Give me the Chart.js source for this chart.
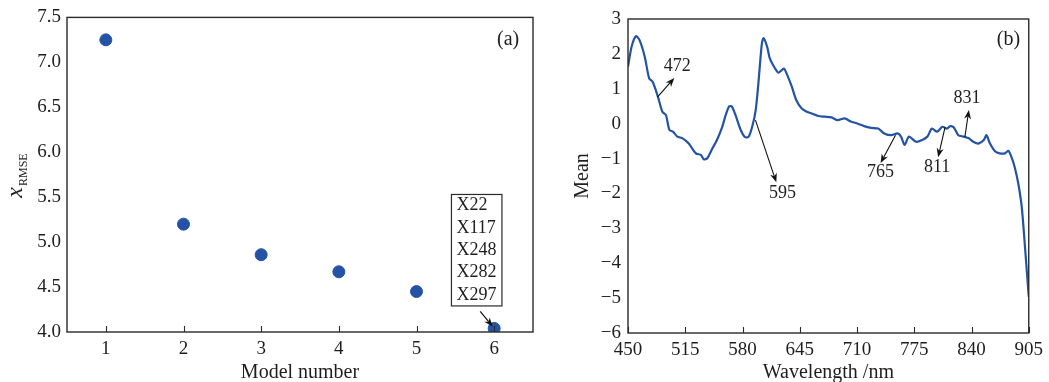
<!DOCTYPE html>
<html lang="en">
<head>
<meta charset="UTF-8">
<title>Model RMSE and mean spectrum</title>
<script src="https://cdn.jsdelivr.net/npm/chart.js"></script>
<style>
  html, body { margin: 0; padding: 0; background: #fff; }
  .wrap { display: flex; width: 1049px; height: 382px; }
</style>
</head>
<body>
<div class="wrap">
  <canvas id="rmseChart" width="540" height="382"></canvas>
  <canvas id="meanChart" width="509" height="382"></canvas>
</div>
<script>
// ---- panel (a) data
const modelNumbers = [1, 2, 3, 4, 5, 6];
const rmseValues = [7.25, 5.20, 4.86, 4.67, 4.45, 4.04];
const rmseTicks = [4.0, 4.5, 5.0, 5.5, 6.0, 6.5, 7.0, 7.5];
const selectedVars = ['X22', 'X117', 'X248', 'X282', 'X297'];

// ---- panel (b) data
const wavelengths = [450, 454, 459, 463, 469, 474, 478, 484, 489, 493, 497, 501, 506, 512, 519, 527,
  533, 536, 540, 546, 551, 557, 561, 565, 568, 572, 578, 583, 587, 591, 595, 598, 602, 604, 608, 611,
  617, 621, 627, 630, 636, 641, 647, 653, 658, 666, 673, 681, 688, 696, 703, 711, 718, 726, 734, 741,
  749, 756, 760, 764, 769, 777, 784, 790, 795, 801, 807, 812, 816, 820, 825, 831, 837, 842, 848, 854,
  857, 861, 867, 872, 878, 882, 886, 889, 893, 897, 901, 905];
const meanValues = [1.63, 2.2, 2.51, 2.4, 1.92, 1.3, 1.2, 0.77, 0.34, 0.25, -0.18, -0.23, -0.37, -0.42,
  -0.57, -0.85, -0.9, -1.02, -0.99, -0.7, -0.47, -0.09, 0.25, 0.5, 0.49, 0.25, -0.18, -0.39, -0.37,
  -0.09, 0.39, 1.15, 2.3, 2.45, 2.2, 1.87, 1.58, 1.46, 1.58, 1.44, 1.06, 0.68, 0.44, 0.34, 0.3, 0.22,
  0.2, 0.18, 0.1, 0.15, 0.06, 0, -0.07, -0.12, -0.14, -0.28, -0.33, -0.28, -0.37, -0.61, -0.37, -0.52,
  -0.47, -0.37, -0.14, -0.23, -0.09, -0.14, -0.07, -0.11, -0.33, -0.37, -0.42, -0.52, -0.57, -0.47,
  -0.33, -0.57, -0.8, -0.85, -0.85, -0.78, -1.0, -1.24, -1.7, -2.38, -3.62, -4.96];
const wavelengthTicks = [450, 515, 580, 645, 710, 775, 840, 905];
const meanTicks = [-6, -5, -4, -3, -2, -1, 0, 1, 2, 3];
const peakLabels = ['472', '595', '765', '811', '831'];

// annotation placement, in data units: [tailX, tailY, headX, headY, textX, textY]
const peakArrows = [
  [483.4, 0.76, 502.6, 1.31, 505.9, 1.65],
  [594.7, 0.10, 618.4, -1.68, 625.3, -1.99],
  [753.7, -0.33, 736.8, -1.13, 736.8, -1.39],
  [810.0, -0.10, 802.1, -0.96, 801.0, -1.25],
  [832.5, -0.38, 837.0, 0.39, 834.8, 0.73]
];

const FONT = '"Liberation Serif", serif';
const TXT = '#1e1e1e';
const AXIS = '#2a2a2a';
const BLUE = '#2453a6';

Chart.defaults.font.family = FONT;
Chart.defaults.font.size = 19;
Chart.defaults.color = TXT;

function arrow(ctx, x1, y1, x2, y2) {
  const a = Math.atan2(y2 - y1, x2 - x1);
  const len = 9, w = 3.5;
  ctx.beginPath();
  ctx.moveTo(x1, y1);
  ctx.lineTo(x2 - Math.cos(a) * len * 0.7, y2 - Math.sin(a) * len * 0.7);
  ctx.stroke();
  ctx.beginPath();
  ctx.moveTo(x2, y2);
  ctx.lineTo(x2 - Math.cos(a) * len + Math.sin(a) * w, y2 - Math.sin(a) * len - Math.cos(a) * w);
  ctx.lineTo(x2 - Math.cos(a) * len * 0.7, y2 - Math.sin(a) * len * 0.7);
  ctx.lineTo(x2 - Math.cos(a) * len - Math.sin(a) * w, y2 - Math.sin(a) * len + Math.cos(a) * w);
  ctx.closePath();
  ctx.fill();
}

// frame + inward x ticks
const framePlugin = {
  id: 'frame',
  afterDraw(chart) {
    const { ctx, chartArea: ca } = chart;
    const xs = chart.scales.x;
    ctx.save();
    ctx.strokeStyle = AXIS;
    ctx.lineWidth = 1.4;
    ctx.strokeRect(ca.left, ca.top, ca.right - ca.left, ca.bottom - ca.top);
    ctx.lineWidth = 1.1;
    xs.ticks.forEach((t, i) => {
      const px = Math.round(xs.getPixelForTick(i)) + 0.5;
      ctx.beginPath();
      ctx.moveTo(px, ca.bottom);
      ctx.lineTo(px, ca.bottom - 6);
      ctx.stroke();
    });
    ctx.restore();
  }
};

function fixedTicks(values) {
  return scale => { scale.ticks = values.map(v => ({ value: v })); };
}

// ---- panel (a)
const rmsePlugin = {
  id: 'rmseNotes',
  afterDraw(chart) {
    const { ctx } = chart;
    const xs = chart.scales.x, ys = chart.scales.y;
    ctx.save();
    // y title: x_RMSE
    ctx.translate(17, 176);
    ctx.rotate(-Math.PI / 2);
    ctx.fillStyle = TXT;
    ctx.textBaseline = 'middle';
    ctx.font = 'italic 24px ' + FONT;
    const wx = ctx.measureText('x').width;
    ctx.font = '12px ' + FONT;
    const ws = ctx.measureText('RMSE').width;
    const start = -(wx + ws) / 2;
    ctx.font = 'italic 24px ' + FONT;
    ctx.textAlign = 'left';
    ctx.fillText('x', start, -1);
    ctx.font = '12px ' + FONT;
    ctx.fillText('RMSE', start + wx + 1, 7);
    ctx.restore();

    ctx.save();
    ctx.fillStyle = TXT;
    ctx.font = '20px ' + FONT;
    ctx.textBaseline = 'middle';
    ctx.textAlign = 'center';
    ctx.fillText('(a)', xs.getPixelForValue(6.18), ys.getPixelForValue(7.25));

    // selected variables box
    const bx1 = xs.getPixelForValue(5.45), bx2 = xs.getPixelForValue(6.1);
    const by1 = ys.getPixelForValue(5.53), by2 = ys.getPixelForValue(4.29);
    ctx.strokeStyle = AXIS;
    ctx.lineWidth = 1.2;
    ctx.strokeRect(bx1, by1, bx2 - bx1, by2 - by1);
    ctx.textAlign = 'left';
    ctx.font = '18px ' + FONT;
    const lh = (by2 - by1) / selectedVars.length;
    selectedVars.forEach((s, i) => ctx.fillText(s, bx1 + 5, by1 + lh * (i + 0.5)));
    ctx.fillStyle = '#111';
    ctx.strokeStyle = '#111';
    arrow(ctx, xs.getPixelForValue(5.82), ys.getPixelForValue(4.23),
      xs.getPixelForValue(5.98), ys.getPixelForValue(4.06));
    ctx.restore();
  }
};

new Chart(document.getElementById('rmseChart'), {
  type: 'scatter',
  data: {
    datasets: [{
      data: modelNumbers.map((m, i) => ({ x: m, y: rmseValues[i] })),
      backgroundColor: BLUE,
      borderColor: BLUE,
      pointRadius: 6
    }]
  },
  options: {
    responsive: false,
    animation: false,
    layout: { padding: { top: 17, right: 6, left: 0, bottom: 0 } },
    plugins: { legend: { display: false }, tooltip: { enabled: false } },
    scales: {
      x: {
        type: 'linear', min: 0.5, max: 6.5,
        afterBuildTicks: fixedTicks(modelNumbers),
        afterFit: s => { s.height = 50; },
        grid: { display: false, drawTicks: false },
        border: { display: false },
        ticks: { padding: 6, color: TXT },
        title: { display: true, text: 'Model number', color: TXT, font: { size: 20 }, padding: { top: 0, bottom: -3 } }
      },
      y: {
        min: 4.0, max: 7.5,
        afterBuildTicks: fixedTicks(rmseTicks),
        afterFit: s => { s.width = 67; },
        grid: { display: false, drawTicks: false },
        border: { display: false },
        ticks: { padding: 6, color: TXT, callback: v => v.toFixed(1) }
      }
    }
  },
  plugins: [framePlugin, rmsePlugin]
});

// ---- panel (b)
const meanPlugin = {
  id: 'meanNotes',
  afterDraw(chart) {
    const { ctx } = chart;
    const xs = chart.scales.x, ys = chart.scales.y;
    ctx.save();
    ctx.fillStyle = TXT;
    ctx.font = '20px ' + FONT;
    ctx.textBaseline = 'middle';
    ctx.textAlign = 'center';
    ctx.fillText('(b)', xs.getPixelForValue(882), ys.getPixelForValue(2.4));
    ctx.font = '18px ' + FONT;
    ctx.strokeStyle = '#111';
    ctx.lineWidth = 1.1;
    peakArrows.forEach((p, i) => {
      ctx.fillStyle = '#111';
      arrow(ctx, xs.getPixelForValue(p[0]), ys.getPixelForValue(p[1]),
        xs.getPixelForValue(p[2]), ys.getPixelForValue(p[3]));
      ctx.fillStyle = TXT;
      ctx.fillText(peakLabels[i], xs.getPixelForValue(p[4]), ys.getPixelForValue(p[5]));
    });
    ctx.restore();
  }
};

new Chart(document.getElementById('meanChart'), {
  type: 'line',
  data: {
    datasets: [{
      data: wavelengths.map((w, i) => ({ x: w, y: meanValues[i] })),
      borderColor: BLUE,
      borderWidth: 2.2,
      pointRadius: 0,
      tension: 0.25,
      fill: false
    }]
  },
  options: {
    responsive: false,
    animation: false,
    layout: { padding: { top: 19, right: 17, left: 0, bottom: 0 } },
    plugins: { legend: { display: false }, tooltip: { enabled: false } },
    scales: {
      x: {
        type: 'linear', min: 450, max: 905,
        afterBuildTicks: fixedTicks(wavelengthTicks),
        afterFit: s => { s.height = 49; },
        grid: { display: false, drawTicks: false },
        border: { display: false },
        ticks: { padding: 6, color: TXT },
        title: { display: true, text: 'Wavelength /nm', color: TXT, font: { size: 20 }, padding: { top: 0, bottom: -3 } }
      },
      y: {
        min: -6, max: 3,
        afterBuildTicks: fixedTicks(meanTicks),
        afterFit: s => { s.width = 88; },
        grid: { display: false, drawTicks: false },
        border: { display: false },
        ticks: { padding: 7, color: TXT, callback: v => String(v).replace('-', '\u2212') },
        title: { display: true, text: 'Mean', color: TXT, font: { size: 20 }, padding: { top: 31, bottom: 0 } }
      }
    }
  },
  plugins: [framePlugin, meanPlugin]
});
</script>
</body>
</html>
